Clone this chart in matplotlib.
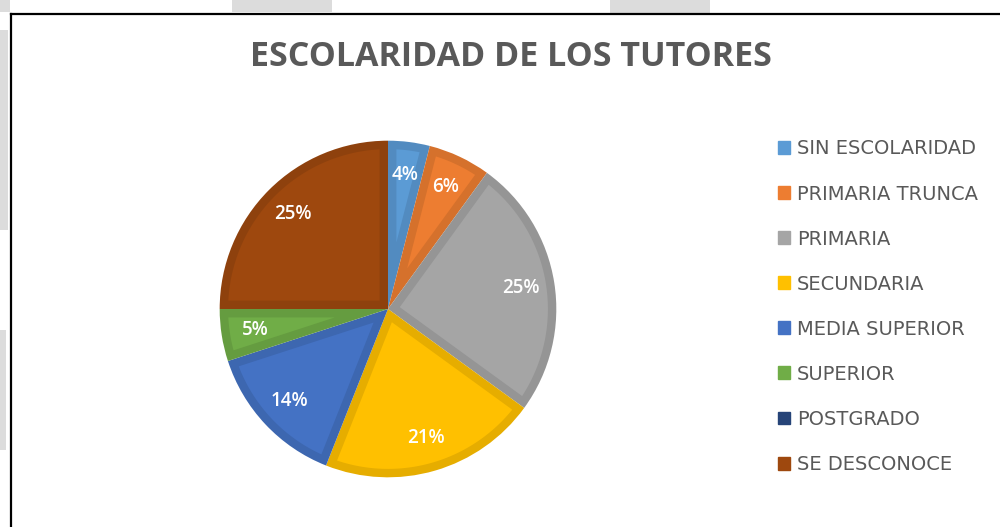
import numpy as np
import matplotlib.pyplot as plt
from matplotlib.colors import to_rgb
from matplotlib.lines import Line2D
from matplotlib.patches import Rectangle, Polygon

categories = ["SIN ESCOLARIDAD", "PRIMARIA TRUNCA", "PRIMARIA", "SECUNDARIA",
              "MEDIA SUPERIOR", "SUPERIOR", "POSTGRADO", "SE DESCONOCE"]
values = [4, 6, 25, 21, 14, 5, 0, 25]
colors = ["#5B9BD5", "#ED7D31", "#A5A5A5", "#FFC000",
          "#4472C4", "#70AD47", "#264478", "#9E480E"]
title = "ESCOLARIDAD DE LOS TUTORES"


def darker(c, f=0.9):
    r, g, b = to_rgb(c)
    return (r * f, g * f, b * f)


def inset_wedge(w, d):
    # lighter inner part of a wedge, leaving a band of width d on every edge
    t1, t2 = np.radians(w.theta1), np.radians(w.theta2)
    if t2 - t1 <= 0:
        return None
    half = (t2 - t1) / 2
    cx, cy = w.center
    r2 = w.r - d
    delta = np.arcsin(d / r2)
    if t2 - t1 - 2 * delta <= 0:
        return None
    apex_r = d / np.sin(half)
    mid = t1 + half
    arc = np.linspace(t1 + delta, t2 - delta, 60)
    pts = [(cx + apex_r * np.cos(mid), cy + apex_r * np.sin(mid))]
    pts += [(cx + r2 * np.cos(a), cy + r2 * np.sin(a)) for a in arc]
    return pts


fig = plt.figure(figsize=(10, 5.27), dpi=100)
fig.patch.set_facecolor("white")

# scanned-page leftovers outside the chart frame
for (x0, y0, w, h) in [(0, 30, 8, 200), (0, 330, 6, 120), (232, 0, 100, 12),
                       (610, 0, 100, 13), (0, 0, 10, 12)]:
    fig.add_artist(Rectangle((x0 / 1000, 1 - (y0 + h) / 527), w / 1000, h / 527,
                             transform=fig.transFigure, color="#dcdcdc", lw=0))

# frame
fig.add_artist(Line2D([0.011, 0.011], [0, 1 - 14 / 527], color="black", lw=1.6,
                      transform=fig.transFigure))
fig.add_artist(Line2D([0.011, 1.0], [1 - 14 / 527, 1 - 14 / 527], color="black",
                      lw=1.6, transform=fig.transFigure))

fig.text(0.5105, 1 - 57 / 527, title, ha="center", va="center",
         fontsize=24.5, fontweight="bold", color="#595959", family="Open Sans")

ax = fig.add_axes([0.218, 48 / 527, 0.34, 340 / 527])


def fmt(p):
    return f"{p:.0f}%" if p > 0.5 else ""


wedges, texts, autotexts = ax.pie(
    values, colors=[darker(c) for c in colors], startangle=90,
    counterclock=False, autopct=fmt, pctdistance=0.8, radius=1.0,
    wedgeprops=dict(linewidth=0),
    textprops=dict(color="white", fontsize=13.5, family="Open Sans",
                   fontweight="semibold", zorder=5))

for w, c in zip(wedges, colors):
    pts = inset_wedge(w, 0.05)
    if pts is not None:
        ax.add_patch(Polygon(pts, closed=True, facecolor=c, lw=0, zorder=2))

ax.set_xlim(-1.01, 1.01)
ax.set_ylim(-1.01, 1.01)
ax.set_aspect("equal")
ax.axis("off")

handles = [Rectangle((0, 0), 1, 1, color=c) for c in colors]
leg = fig.legend(handles, categories, loc="upper left",
                 bbox_to_anchor=(0.760, 1 - 122 / 527), frameon=False,
                 handlelength=0.65, handleheight=0.65, handletextpad=0.35,
                 labelspacing=1.34,
                 prop=dict(family="DejaVu Sans", size=14))
for t in leg.get_texts():
    t.set_color("#595959")

fig.savefig("out.png", dpi=100)
